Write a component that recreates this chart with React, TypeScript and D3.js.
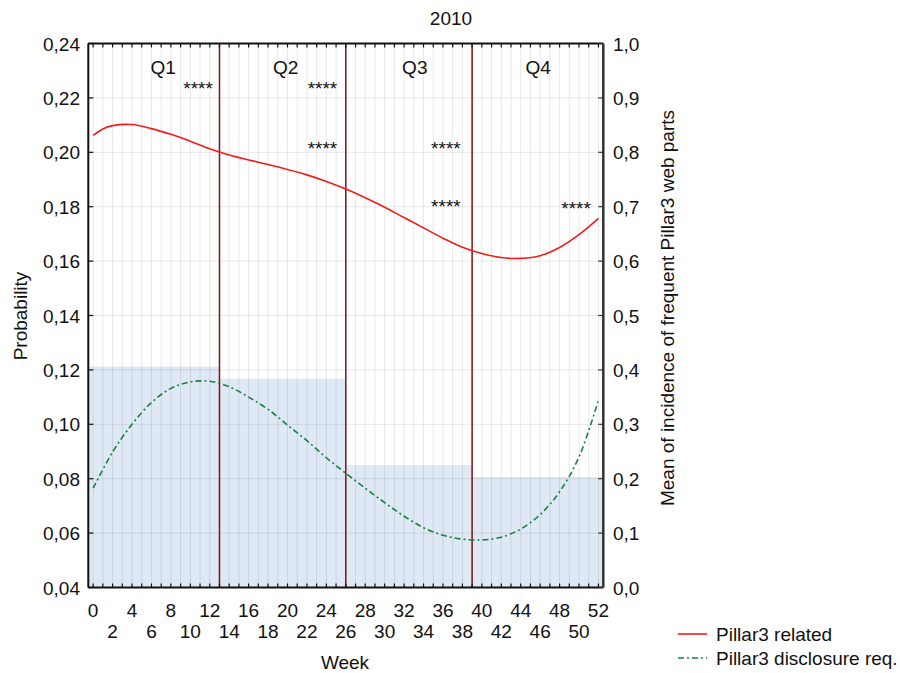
import * as d3 from "d3";

const weeksRed = [0, 1, 2, 4, 6, 8, 10, 12, 14, 16, 18, 20, 22, 24, 26, 28, 30, 32, 34, 36, 38, 40, 42, 44, 46, 48, 50, 52];
const pillarRelated = [0.2062, 0.2086, 0.2098, 0.2102, 0.2087, 0.2066, 0.2041, 0.2013, 0.199, 0.1972, 0.1955, 0.1937, 0.1917, 0.1893, 0.1865, 0.1833, 0.1798, 0.176, 0.1722, 0.1684, 0.1651, 0.1628, 0.1613, 0.161, 0.162, 0.165, 0.1697, 0.1757];

const weeksGreen = [0, 2, 4, 6, 8, 10, 12, 14, 16, 18, 20, 22, 24, 26, 28, 30, 32, 34, 36, 38, 40, 42, 44, 46, 48, 50, 52];
const disclosureReq = [0.0765, 0.0898, 0.1, 0.108, 0.1132, 0.1156, 0.1158, 0.1138, 0.11, 0.1055, 0.0997, 0.094, 0.0877, 0.082, 0.0765, 0.0712, 0.0662, 0.062, 0.0592, 0.0578, 0.0575, 0.0585, 0.0615, 0.0668, 0.0752, 0.088, 0.1089];

// quarterly mean incidence (right axis)
const quarters = ["Q1", "Q2", "Q3", "Q4"];
const quarterStart = [-0.5, 13, 26, 39];
const quarterEnd = [13, 26, 39, 52.5];
const quarterMean = [0.406, 0.384, 0.225, 0.203];
const quarterLabelWeek = [7.2, 19.8, 33.1, 45.8];
const quarterBreaks = [13, 26, 39];

// significance marks: [week, probability]
const starWeek = [10.8, 23.6, 23.6, 36.3, 36.3, 49.7];
const starProb = [0.225, 0.225, 0.203, 0.203, 0.1816, 0.1809];

const leftTicks = [0.04, 0.06, 0.08, 0.1, 0.12, 0.14, 0.16, 0.18, 0.2, 0.22, 0.24];
const rightTicks = [0, 0.1, 0.2, 0.3, 0.4, 0.5, 0.6, 0.7, 0.8, 0.9, 1.0];
const weekTicks = d3.range(0, 53);

const W = 900;
const H = 673;
const left = 88.3;
const right = 603.3;
const top = 43.5;
const bottom = 587.5;
const font = "'Liberation Sans', Arial, sans-serif";

export default function App() {
  const x = d3.scaleLinear().domain([-0.5, 52.5]).range([left, right]);
  const yL = d3.scaleLinear().domain([0.04, 0.24]).range([bottom, top]);
  const yR = d3.scaleLinear().domain([0, 1]).range([bottom, top]);
  const comma = (v: number, d: number) => v.toFixed(d).replace(".", ",");

  const line = d3
    .line<[number, number]>()
    .x((d) => x(d[0]))
    .y((d) => yL(d[1]))
    .curve(d3.curveCatmullRom.alpha(0.5));

  const redD = line(weeksRed.map((w, i) => [w, pillarRelated[i]])) ?? "";
  const greenD = line(weeksGreen.map((w, i) => [w, disclosureReq[i]])) ?? "";

  return (
    <svg
      width={W}
      height={H}
      style={{ position: "absolute", left: 0, top: 0 }}
      fontFamily={font}
      fontSize={19}
    >
      <rect width={W} height={H} fill="#fff" />
      {/* quarterly bars */}
      {quarters.map((q, i) => (
        <rect
          key={q}
          x={x(quarterStart[i])}
          y={yR(quarterMean[i])}
          width={x(quarterEnd[i]) - x(quarterStart[i])}
          height={bottom - yR(quarterMean[i])}
          fill="#dfe8f5"
        />
      ))}
      {/* grid */}
      {weekTicks.map((w) => (
        <line key={"vg" + w} x1={x(w)} x2={x(w)} y1={top} y2={bottom} stroke="#000" strokeOpacity={0.09} />
      ))}
      {leftTicks.map((t) => (
        <line key={"hg" + t} x1={left} x2={right} y1={yL(t)} y2={yL(t)} stroke="#000" strokeOpacity={0.09} />
      ))}
      {/* quarter breaks */}
      {quarterBreaks.map((w) => (
        <line key={"qb" + w} x1={x(w)} x2={x(w)} y1={top} y2={bottom} stroke="#7f1414" strokeWidth={1.5} />
      ))}
      {/* curves */}
      <path d={greenD} fill="none" stroke="#17803d" strokeWidth={1.6} strokeDasharray="6,3,2,3" />
      <path d={redD} fill="none" stroke="#f21c1c" strokeWidth={1.6} />
      {/* axes frame */}
      <line x1={left} x2={right} y1={top} y2={top} stroke="#111" strokeWidth={2} />
      <line x1={left} x2={right} y1={bottom} y2={bottom} stroke="#111" strokeWidth={2} />
      <line x1={left} x2={left} y1={top} y2={bottom} stroke="#111" strokeWidth={2} />
      <line x1={right} x2={right} y1={top} y2={bottom} stroke="#333" strokeWidth={2.5} />
      {weekTicks.map((w) => (
        <g key={"wt" + w}>
          <line x1={x(w)} x2={x(w)} y1={top} y2={top + 4} stroke="#111" strokeWidth={1.2} />
          <line x1={x(w)} x2={x(w)} y1={bottom} y2={bottom - 4} stroke="#111" strokeWidth={1.2} />
          <text
            x={x(w)}
            y={w % 4 === 0 ? 617 : 637.5}
            textAnchor="middle"
            fill="#111"
            style={{ display: w % 2 === 0 ? undefined : "none" }}
          >
            {w}
          </text>
        </g>
      ))}
      {leftTicks.map((t) => (
        <g key={"lt" + t}>
          <line x1={left} x2={left + 5} y1={yL(t)} y2={yL(t)} stroke="#111" strokeWidth={1.2} />
          <text x={80} y={yL(t) + 7} textAnchor="end" fill="#111">
            {comma(t, 2)}
          </text>
        </g>
      ))}
      {rightTicks.map((t) => (
        <g key={"rt" + t}>
          <line x1={right} x2={right - 5} y1={yR(t)} y2={yR(t)} stroke="#333" strokeWidth={1.2} />
          <text x={613} y={yR(t) + 7} textAnchor="start" fill="#111">
            {comma(t, 1)}
          </text>
        </g>
      ))}
      {/* quarter labels */}
      {quarters.map((q, i) => (
        <text key={"ql" + q} x={x(quarterLabelWeek[i])} y={74} textAnchor="middle" fill="#111">
          {q}
        </text>
      ))}
      {starWeek.map((w, i) => (
        <text key={"st" + i} x={x(w)} y={yL(starProb[i]) + 11} textAnchor="middle" fill="#111">
          ****
        </text>
      ))}
      {/* titles */}
      <text x={451} y={25} textAnchor="middle" fill="#111">
        2010
      </text>
      <text x={345} y={669} textAnchor="middle" fill="#111">
        Week
      </text>
      <text transform="translate(27,316) rotate(-90)" textAnchor="middle" fill="#111">
        Probability
      </text>
      <text transform="translate(674,308) rotate(-90)" textAnchor="middle" fill="#111">
        Mean of incidence of frequent Pillar3 web parts
      </text>
      {/* legend */}
      <line x1={678} x2={707} y1={634} y2={634} stroke="#f21c1c" strokeWidth={1.6} />
      <text x={716} y={640.5} fill="#111">
        Pillar3 related
      </text>
      <line x1={678} x2={707} y1={658} y2={658} stroke="#17803d" strokeWidth={1.6} strokeDasharray="6,3,2,3" />
      <text x={716} y={664.5} fill="#111">
        Pillar3 disclosure req.
      </text>
    </svg>
  );
}
